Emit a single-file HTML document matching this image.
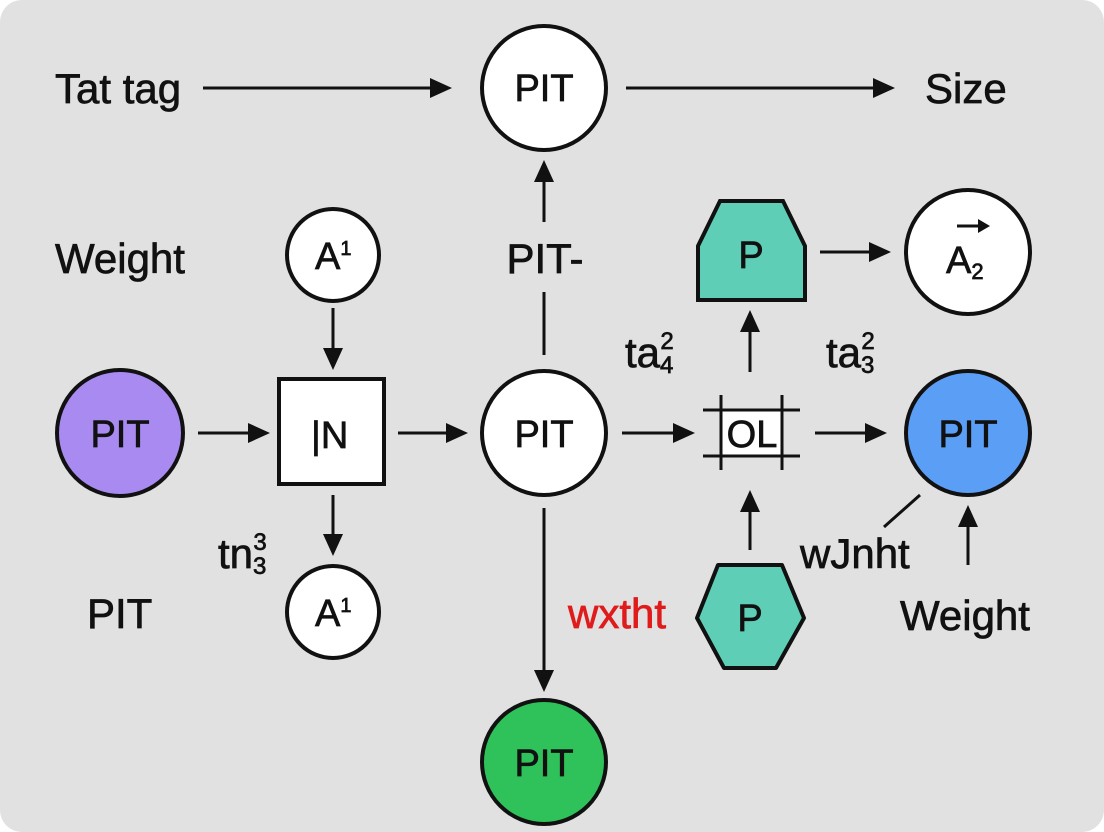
<!DOCTYPE html>
<html><head><style>
html,body{margin:0;padding:0;background:#fff;}
svg{display:block;}
text{font-family:"Liberation Sans",sans-serif;font-size:38px;fill:#111;stroke:#111;stroke-width:0.7;}
.l{font-size:42px;}
</style></head><body>
<svg width="1104" height="832" viewBox="0 0 1104 832" xmlns="http://www.w3.org/2000/svg">
<rect x="0" y="0" width="1104" height="832" rx="22" fill="#e1e1e1"/>
<g stroke="#111" stroke-width="3" fill="none">
<line x1="203" y1="88" x2="430" y2="88"/>
<line x1="626" y1="88" x2="873" y2="88"/>
<line x1="544" y1="355" x2="544" y2="292"/>
<line x1="544" y1="222" x2="544" y2="182"/>
<line x1="333" y1="308" x2="333" y2="350"/>
<line x1="198" y1="433" x2="250" y2="433"/>
<line x1="398" y1="433" x2="448" y2="433"/>
<line x1="333" y1="495" x2="333" y2="535"/>
<line x1="544" y1="508" x2="544" y2="670"/>
<line x1="622" y1="433" x2="675" y2="433"/>
<line x1="815" y1="433" x2="866" y2="433"/>
<line x1="750" y1="372" x2="750" y2="330"/>
<line x1="820" y1="252" x2="870" y2="252"/>
<line x1="750" y1="550" x2="750" y2="510"/>
<line x1="920" y1="495" x2="884" y2="527"/>
<line x1="968" y1="565" x2="968" y2="525"/>
</g>
<g fill="#111">
<polygon points="452,88 430,78 430,98"/>
<polygon points="895,88 873,78 873,98"/>
<polygon points="544,160 534,182 554,182"/>
<polygon points="333,370 323,348 343,348"/>
<polygon points="270,433 248,423 248,443"/>
<polygon points="468,433 446,423 446,443"/>
<polygon points="333,556 323,534 343,534"/>
<polygon points="544,692 534,670 554,670"/>
<polygon points="695,433 673,423 673,443"/>
<polygon points="887,433 865,423 865,443"/>
<polygon points="750,310 740,332 760,332"/>
<polygon points="891,252 869,242 869,262"/>
<polygon points="750,490 740,512 760,512"/>
<polygon points="968,505 958,527 978,527"/>
</g>
<g stroke="#111" stroke-width="4">
<circle cx="544" cy="88" r="62" fill="#fff"/>
<circle cx="333" cy="255" r="46" fill="#fff"/>
<rect x="279" y="379" width="105" height="105" fill="#fff"/>
<circle cx="120" cy="433" r="63" fill="#a88af0"/>
<circle cx="544" cy="433" r="62" fill="#fff"/>
<circle cx="333" cy="612" r="46" fill="#fff"/>
<circle cx="544" cy="762" r="62" fill="#2fc25a"/>
<circle cx="968" cy="433" r="62" fill="#5b9ef5"/>
<circle cx="968" cy="252" r="62" fill="#fff"/>
<polygon points="720,201 783,201 805,246 805,300 698,300 698,246" fill="#5ecfb6"/>
<polygon points="718,565 782,565 804,618 776,668 724,668 697,618" fill="#5ecfb6" stroke-linejoin="round"/>
</g>
<rect x="722" y="410" width="60" height="46" fill="#fff"/>
<g stroke="#111" stroke-width="3">
<line x1="703" y1="410" x2="800" y2="410"/>
<line x1="703" y1="456" x2="800" y2="456"/>
<line x1="721" y1="395" x2="721" y2="470"/>
<line x1="782" y1="395" x2="782" y2="470"/>
</g>
<line x1="957" y1="226" x2="982" y2="226" stroke="#111" stroke-width="3"/>
<polygon points="990,226 978,219 978,233" fill="#111"/>
<g>
<text class="l" x="55" y="103">Tat tag</text>
<text x="544" y="101" text-anchor="middle">PIT</text>
<text class="l" x="925" y="103">Size</text>
<text class="l" x="55" y="273">Weight</text>
<text x="315" y="269">A<tspan font-size="20" dy="-14">1</tspan></text>
<text class="l" x="545" y="273" text-anchor="middle">PIT-</text>
<text x="751" y="268" text-anchor="middle">P</text>
<text x="946" y="273" font-size="34">A<tspan font-size="22" dy="6">2</tspan></text>
<text class="l" x="625" y="367">ta<tspan font-size="24" dy="6">4</tspan><tspan font-size="24" dx="-13" dy="-24">2</tspan></text>
<text class="l" x="826" y="367">ta<tspan font-size="24" dy="6">3</tspan><tspan font-size="24" dx="-13" dy="-24">2</tspan></text>
<text x="120" y="447" text-anchor="middle">PIT</text>
<text x="311" y="448">|N</text>
<text x="544" y="447" text-anchor="middle">PIT</text>
<text x="752" y="447" text-anchor="middle" font-size="33">OL</text>
<text x="968" y="447" text-anchor="middle">PIT</text>
<text class="l" x="218" y="568">tn<tspan font-size="24" dy="6">3</tspan><tspan font-size="24" dx="-13" dy="-24">3</tspan></text>
<text class="l" x="800" y="568">wJnht</text>
<text class="l" x="87" y="628">PIT</text>
<text x="315" y="626">A<tspan font-size="20" dy="-14">1</tspan></text>
<text class="l" x="568" y="628" style="fill:#e01b1b;stroke:#e01b1b">wxtht</text>
<text x="750" y="631" text-anchor="middle">P</text>
<text class="l" x="900" y="630">Weight</text>
<text x="544" y="776" text-anchor="middle">PIT</text>
</g>
</svg>
</body></html>
